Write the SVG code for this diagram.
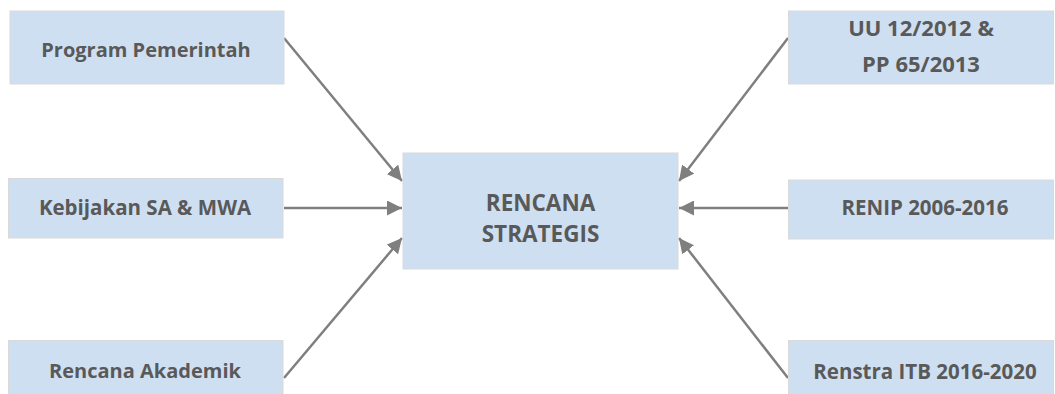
<svg xmlns="http://www.w3.org/2000/svg" width="1055" height="394" viewBox="0 0 1055 394">
<style>
.box{fill:#cfdff2;stroke:#d9d9d9;stroke-width:1}
.t{font-family:"Open Sans","Liberation Sans",sans-serif;font-weight:700;font-size:20.5px;fill:#595959;text-anchor:middle}
.c{stroke:#7f7f7f;stroke-width:2.5;fill:none;marker-end:url(#ah)}
</style>
<defs>
<marker id="ah" viewBox="0 0 10 10" refX="10" refY="5" markerWidth="6" markerHeight="6" markerUnits="strokeWidth" orient="auto">
<path d="M0,0 L10,5 L0,10 z" fill="#7f7f7f"/>
</marker>
</defs>
<rect width="1055" height="394" fill="#ffffff"/>
<g id="connectors">
<line class="c" x1="284" y1="38" x2="402" y2="181"/>
<line class="c" x1="284" y1="208" x2="402" y2="208"/>
<line class="c" x1="284" y1="378" x2="402" y2="238"/>
<line class="c" x1="788" y1="38" x2="679" y2="181"/>
<line class="c" x1="788" y1="208" x2="679" y2="208"/>
<line class="c" x1="788" y1="378" x2="679" y2="238"/>
</g>
<g id="n-program">
<rect class="box" x="10" y="11" width="274" height="73"/>
<text class="t" x="146" y="57" style="font-size:20px">Program Pemerintah</text>
</g>
<g id="n-kebijakan">
<rect class="box" x="8.5" y="178.5" width="274.5" height="59.5"/>
<text class="t" x="145" y="215">Kebijakan SA &amp; MWA</text>
</g>
<g id="n-akademik">
<rect class="box" x="8.5" y="340.5" width="274.5" height="60"/>
<text class="t" x="145" y="378" style="font-size:20px">Rencana Akademik</text>
</g>
<g id="n-renstra-center">
<rect class="box" x="403" y="153" width="275" height="116"/>
<text class="t" x="540.5" y="211" style="font-size:22.5px">RENCANA</text>
<text class="t" x="540.5" y="242" style="font-size:22.5px">STRATEGIS</text>
</g>
<g id="n-uu">
<rect class="box" x="788.5" y="11" width="265" height="73"/>
<text class="t" x="921" y="36" style="font-size:22px">UU 12/2012 &amp;</text>
<text class="t" x="921" y="72" style="font-size:22px">PP 65/2013</text>
</g>
<g id="n-renip">
<rect class="box" x="788.5" y="180" width="265" height="59"/>
<text class="t" x="925" y="215">RENIP 2006-2016</text>
</g>
<g id="n-renstra-itb">
<rect class="box" x="788.5" y="340.5" width="265" height="60"/>
<text class="t" x="925" y="379">Renstra ITB 2016-2020</text>
</g>
</svg>
